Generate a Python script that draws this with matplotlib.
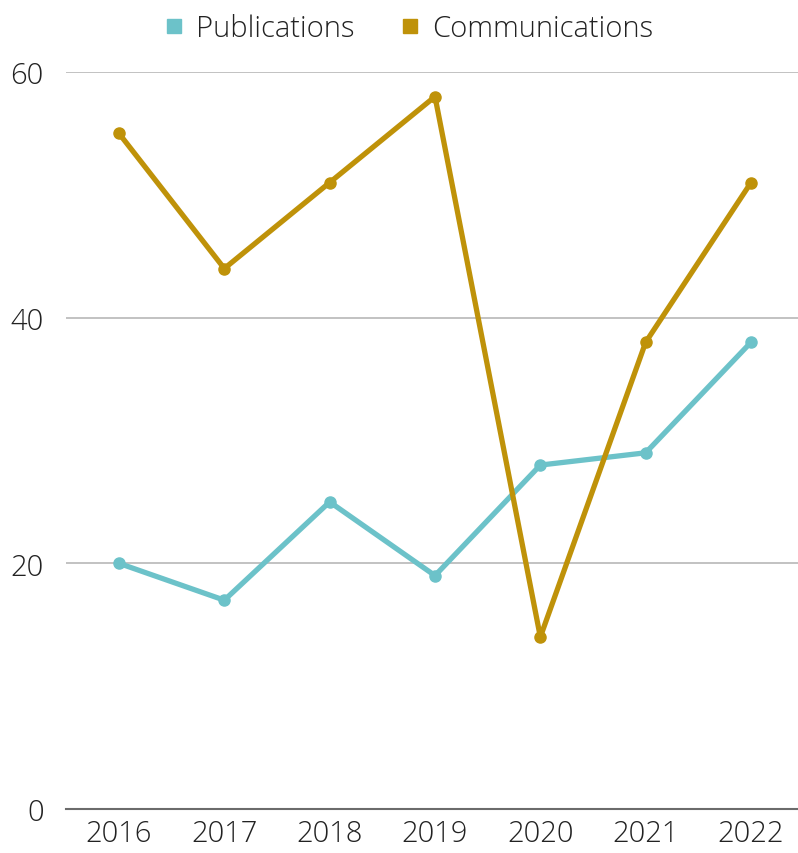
import matplotlib.pyplot as plt
from matplotlib.lines import Line2D

years = ["2016", "2017", "2018", "2019", "2020", "2021", "2022"]
publications = [20, 17, 25, 19, 28, 29, 38]
communications = [55, 44, 51, 58, 14, 38, 51]

teal = "#6cc2c9"
gold = "#bf9209"

plt.rcParams['font.family'] = ['Open Sans', 'DejaVu Sans']

fig = plt.figure(figsize=(7.98, 8.54), dpi=100)
ax = fig.add_axes([66/798, 1 - 810/854, 1 - 66/798, (810 - 73)/854])

x = list(range(len(years)))
ax.plot(x, publications, color=teal, lw=3.8, marker='o', ms=8, zorder=3)
ax.plot(x, communications, color=gold, lw=3.8, marker='o', ms=8, zorder=3)

ax.set_ylim(0, 60)
ax.set_xlim(-0.503, 6.446)
ax.set_yticks([0, 20, 40, 60])
ax.set_xticks(x)
ax.set_xticklabels(years)
ax.yaxis.grid(True, color="#bdbdbd", lw=1.3)
ax.set_axisbelow(True)
for s in ["top", "right", "left"]:
    ax.spines[s].set_visible(False)
ax.spines["bottom"].set_color("#6b6b6b")
ax.spines["bottom"].set_linewidth(1.5)
ax.spines["bottom"].set_zorder(2)
ax.tick_params(axis='both', length=0, labelsize=21, labelcolor="#222222")
ax.tick_params(axis='x', pad=7)
ax.tick_params(axis='y', pad=16)
for lab in ax.get_xticklabels() + ax.get_yticklabels():
    lab.set_fontweight('light')

handles = [Line2D([], [], color=teal, marker='s', ls='none', ms=10),
           Line2D([], [], color=gold, marker='s', ls='none', ms=10)]
leg = fig.legend(handles, ["Publications", "Communications"], loc='center',
                 bbox_to_anchor=(409/798, 1 - 29/854), ncol=2, frameon=False,
                 handlelength=0.6, handletextpad=0.45, columnspacing=1.6,
                 prop={'size': 21, 'weight': 'light'})
for t in leg.get_texts():
    t.set_color("#222222")

fig.savefig("out.png", dpi=100)
